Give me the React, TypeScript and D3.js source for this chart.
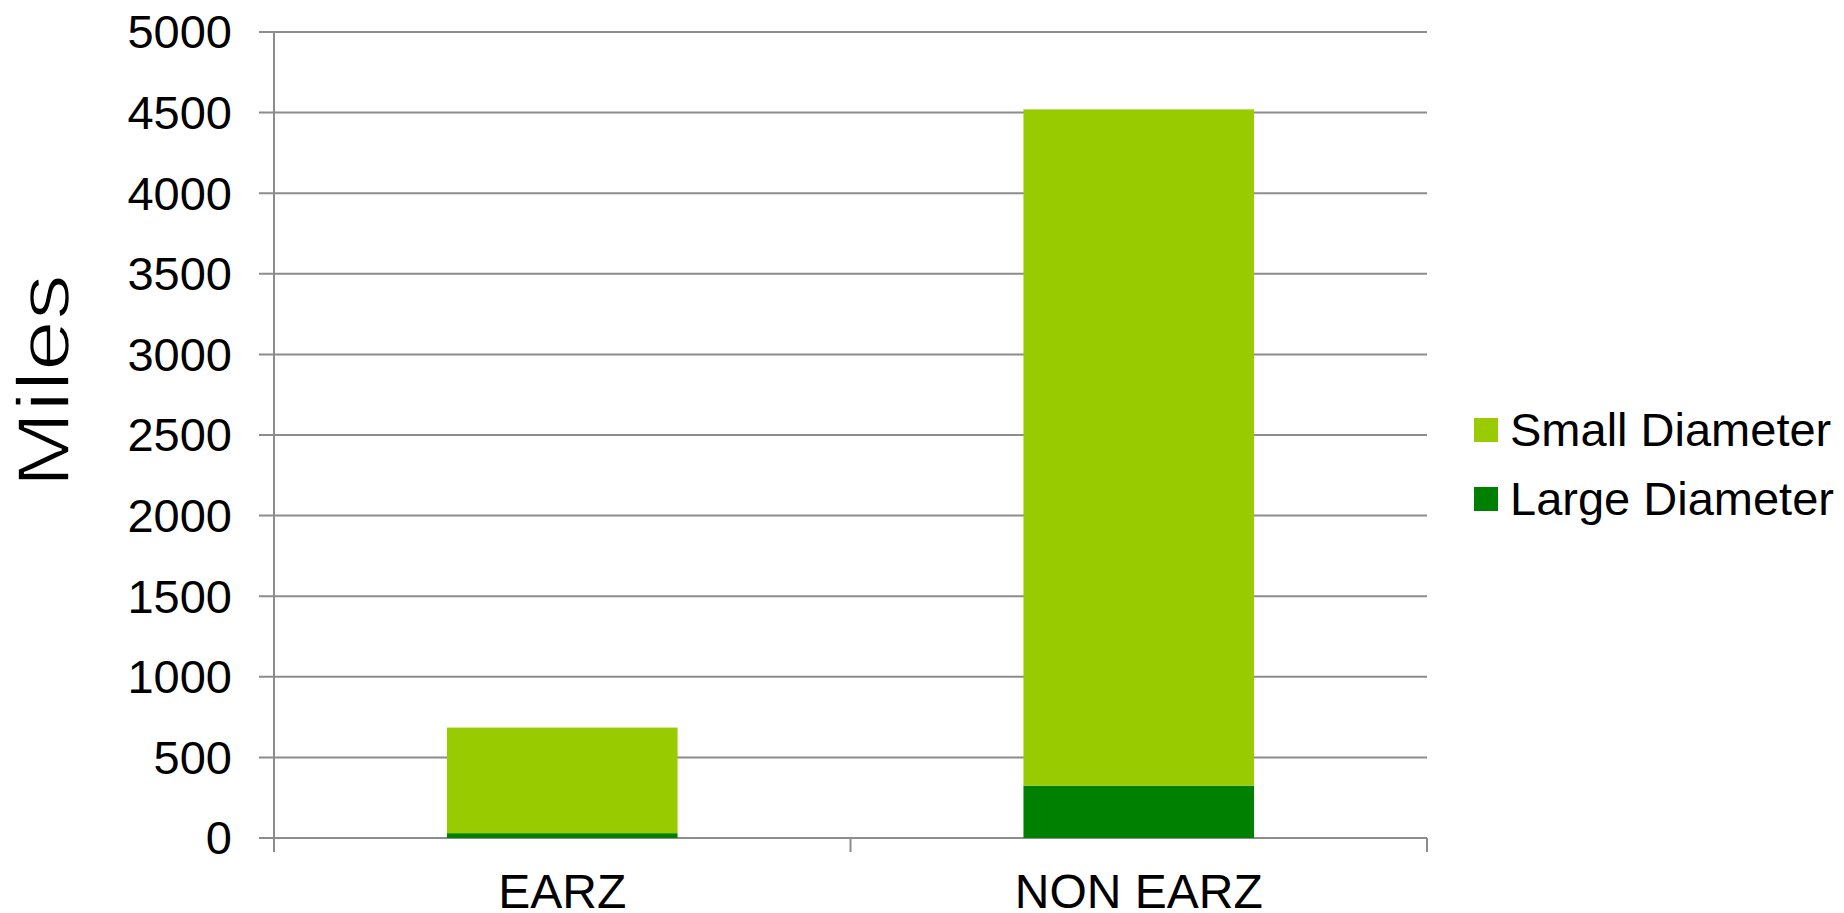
import React from "react";
import * as d3 from "d3";

const categories = ["EARZ", "NON EARZ"];
const largeDiameter = [30, 325];
const smallDiameter = [655, 4195];
const yTicks = [0, 500, 1000, 1500, 2000, 2500, 3000, 3500, 4000, 4500, 5000];
const seriesNames = ["Small Diameter", "Large Diameter"];
const seriesColors = { small: "#99CC00", large: "#008000" };

const W = 1844;
const H = 913;
const M = { left: 274, right: 1427, top: 32, bottom: 838 };
const FONT = "'Liberation Sans', Arial, sans-serif";

export default function App() {
  const x = d3.scaleBand<string>().domain(categories).range([M.left, M.right]).paddingInner(0.6).paddingOuter(0.3);
  const xb = d3.scaleBand<string>().domain(categories).range([M.left, M.right]);
  const y = d3.scaleLinear().domain([0, 5000]).range([M.bottom, M.top]);

  const rows = categories.map((c, i) => ({ cat: c, large: largeDiameter[i], small: smallDiameter[i] }));
  const stack = d3.stack<any>().keys(["large", "small"]);
  const layers = stack(rows);

  const grid = "#8c8c8c";
  const boundaries = [M.left, ...categories.map((c) => (xb(c) as number) + xb.bandwidth())];

  return (
    <svg width={W} height={H} style={{ position: "absolute", left: 0, top: 0, background: "#fff" }} fontFamily={FONT}>
      {yTicks.map((t) => (
        <g key={t}>
          <line x1={M.left - 15} x2={M.right} y1={y(t)} y2={y(t)} stroke={grid} strokeWidth={2} />
          <text x={232} y={y(t)} dy="0.35em" textAnchor="end" fontSize={47} fill="#000">
            {t}
          </text>
        </g>
      ))}
      <line x1={M.left} x2={M.left} y1={M.top} y2={M.bottom + 14} stroke={grid} strokeWidth={2} />
      {boundaries.slice(1).map((bx, i) => (
        <line key={i} x1={bx} x2={bx} y1={M.bottom} y2={M.bottom + 14} stroke={grid} strokeWidth={2} />
      ))}
      {layers.map((layer) => (
        <g key={layer.key} fill={(seriesColors as any)[layer.key]}>
          {layer.map((d: any, i: number) => (
            <rect
              key={i}
              x={x(d.data.cat)}
              width={x.bandwidth()}
              y={y(d[1])}
              height={y(d[0]) - y(d[1])}
            />
          ))}
        </g>
      ))}
      {categories.map((c) => (
        <text key={c} x={(xb(c) as number) + xb.bandwidth() / 2} y={908} textAnchor="middle" fontSize={48} fill="#000">
          {c}
        </text>
      ))}
      <text
        transform="translate(69,381) rotate(-90) scale(1.22,1)"
        textAnchor="middle"
        fontSize={75}
        fill="#000"
        stroke="#fff"
        strokeWidth={1.6}
      >
        Miles
      </text>
      {seriesNames.map((n, i) => (
        <g key={n}>
          <rect x={1474} y={418 + i * 69} width={24} height={24} fill={i === 0 ? seriesColors.small : seriesColors.large} />
          <text x={1510} y={446 + i * 69} fontSize={47} fill="#000">
            {n}
          </text>
        </g>
      ))}
    </svg>
  );
}
